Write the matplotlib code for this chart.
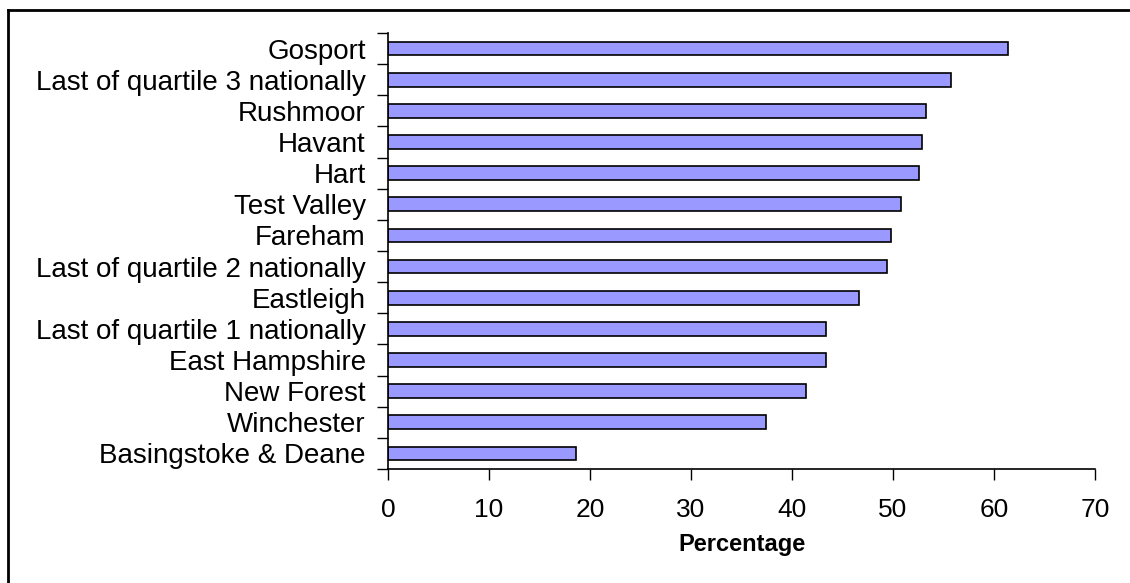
import matplotlib.pyplot as plt
import numpy as np
from matplotlib.lines import Line2D

plt.rcParams["font.family"] = ["Liberation Sans", "DejaVu Sans"]

# top to bottom, as in the chart
areas = [
    "Gosport",
    "Last of quartile 3 nationally",
    "Rushmoor",
    "Havant",
    "Hart",
    "Test Valley",
    "Fareham",
    "Last of quartile 2 nationally",
    "Eastleigh",
    "Last of quartile 1 nationally",
    "East Hampshire",
    "New Forest",
    "Winchester",
    "Basingstoke & Deane",
]
percentages = [61.4, 55.7, 53.3, 52.9, 52.6, 50.8, 49.8, 49.4, 46.6, 43.4, 43.4, 41.4, 37.4, 18.6]
x_ticks = [0, 10, 20, 30, 40, 50, 60, 70]


def main():
    fig = plt.figure(figsize=(11.3, 5.83), dpi=100)
    ax = fig.add_axes([388 / 1130, 1 - 469 / 583, (1095 - 388) / 1130, (469 - 33) / 583])

    n = len(areas)
    y = np.arange(n)[::-1]
    ax.barh(y, percentages, height=0.44, color="#9999ff", edgecolor="black", linewidth=1.2)

    ax.set_xlim(0, 70)
    ax.set_ylim(-0.5, n - 0.5)
    ax.set_xticks(x_ticks)
    ax.set_xticklabels([str(t) for t in x_ticks], fontsize=19)

    # labels sit at bar centres, tick marks between categories
    ax.set_yticks(y)
    ax.set_yticklabels(areas, fontsize=20)
    ax.tick_params(axis="y", which="major", length=0, pad=16)
    ax.set_yticks(np.arange(n + 1) - 0.5, minor=True)
    ax.tick_params(axis="y", which="minor", length=8, width=1, direction="out")
    ax.tick_params(axis="x", length=8, width=1, direction="out", pad=13)

    for side in ["top", "right"]:
        ax.spines[side].set_visible(False)
    ax.spines["left"].set_linewidth(1.2)
    ax.spines["bottom"].set_linewidth(1.2)

    ax.set_xlabel("Percentage", fontsize=17, fontweight="bold", labelpad=8)

    # outer chart border (top and left edges visible)
    fig.add_artist(Line2D([8 / 1130, 1.0], [1 - 9.5 / 583, 1 - 9.5 / 583], color="black", linewidth=2))
    fig.add_artist(Line2D([8 / 1130, 8 / 1130], [0.0, 1 - 9.5 / 583], color="black", linewidth=2))

    fig.savefig("out.png", dpi=100)


if __name__ == "__main__":
    main()
